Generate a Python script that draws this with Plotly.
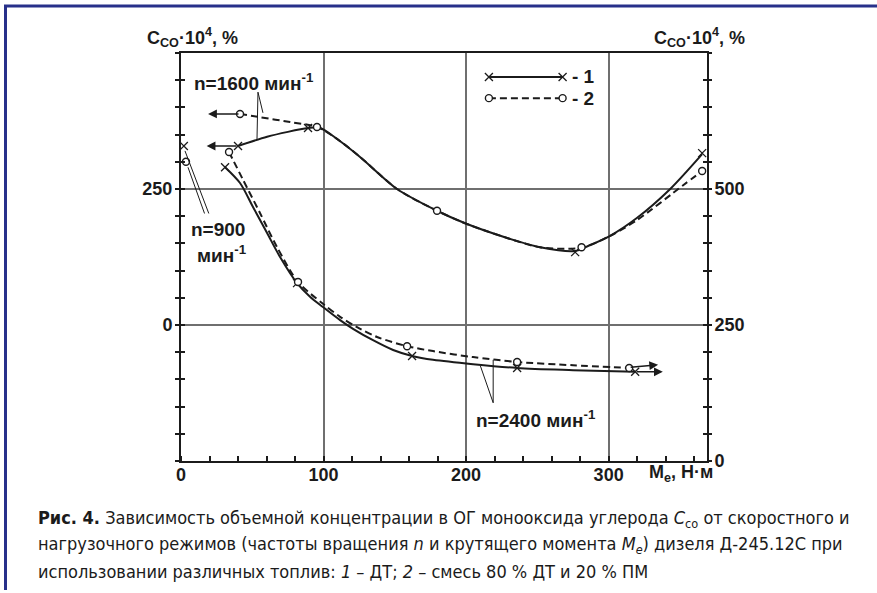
import plotly.graph_objects as go

# ---------------- data ----------------
# Me, N*m  /  C_CO*10^4, %
# n = 900 min^-1 (left axis) - single points at idle
n900_1_x = [2.0];  n900_1_y = [329]
n900_2_x = [3.5];  n900_2_y = [300]

# n = 1600 min^-1 (left axis)
c1600_1_x = [40.0, 60.4, 75.0, 89.1, 97.0, 109.5, 125.6, 151.6, 179.6, 199.3, 228.8, 251.9, 276.5, 287.0, 301.1, 320.0, 343.2, 365.6]
c1600_1_y = [329, 346, 355, 362, 363, 342, 309, 250, 210, 187, 160, 143, 136, 147, 164, 197, 250, 314]
p1600_1_x = [40.0, 89.1, 276.5, 365.6]
p1600_1_y = [329, 362, 134, 316]

c1600_2_x = [41.4, 55.4, 76.5, 95.4, 109.5, 125.6, 151.6, 179.6, 199.3, 228.8, 251.9, 281.0, 301.1, 320.0, 352.3, 365.6]
c1600_2_y = [388, 382, 373, 364, 342, 309, 250, 210, 187, 160, 143, 142, 164, 193, 257, 283]
p1600_2_x = [41.4, 95.4, 179.6, 281.0, 365.6]
p1600_2_y = [388, 364, 210, 143, 283]

# n = 2400 min^-1 (right axis)
c2400_1_x = [30.9, 41.4, 50.5, 60.4, 69.5, 81.4, 90.5, 99.6, 111.6, 120.7, 134.7, 148.8, 162.1, 176.8, 235.8, 275.1, 318.6]
c2400_1_y = [540, 511, 467, 419, 375, 327, 302, 283, 259, 243, 222, 204, 193, 186, 171, 167, 164]
p2400_1_x = [30.9, 81.4, 162.1, 235.8, 318.6]
p2400_1_y = [540, 327, 193, 171, 164]

c2400_2_x = [33.7, 43.5, 55.4, 67.4, 82.1, 99.6, 111.6, 123.5, 137.5, 158.6, 176.8, 204.9, 235.8, 275.1, 314.4]
c2400_2_y = [568, 517, 456, 393, 329, 289, 265, 246, 228, 211, 202, 191, 182, 176, 171]
p2400_2_x = [33.7, 82.1, 158.6, 235.8, 314.4]
p2400_2_y = [568, 329, 211, 182, 171]

x_ticks = [0, 100, 200, 300]
yl_ticks = [0, 250]
yr_ticks = [0, 250, 500]

# ---------------- layout geometry ----------------
W, H = 877, 593
ML, MR, MT, MB = 181, 170, 53, 132
PW, PH = W - ML - MR, H - MT - MB


def px(x):
    return (x - ML) / PW


def py(y):
    return (H - MB - y) / PH


INK = "#1b1b1b"
GRID = "#6f6f6f"
FONT = "Liberation Sans, Arial, Helvetica, sans-serif"
NARROW = "DejaVu Sans Condensed, Liberation Sans Narrow, Arial Narrow, sans-serif"
DASH = "7px,4px"

X_MARK = dict(symbol="x-thin-open", size=8, color=INK, line=dict(color=INK, width=1.3))
O_MARK = dict(symbol="circle", size=7, color="white", line=dict(color=INK, width=1.4))

fig = go.Figure()


def curve(x, y, dash, yaxis):
    fig.add_trace(go.Scatter(x=x, y=y, mode="lines", yaxis=yaxis,
                             line=dict(color=INK, width=2, dash=dash, shape="spline", smoothing=0.8),
                             hoverinfo="skip", showlegend=False))


def points(x, y, mark, yaxis):
    fig.add_trace(go.Scatter(x=x, y=y, mode="markers", yaxis=yaxis, marker=mark,
                             hoverinfo="skip", showlegend=False))


curve(c1600_1_x, c1600_1_y, "solid", "y")
curve(c1600_2_x, c1600_2_y, DASH, "y")
curve(c2400_1_x, c2400_1_y, "solid", "y2")
curve(c2400_2_x, c2400_2_y, DASH, "y2")

points(p1600_1_x, p1600_1_y, X_MARK, "y")
points(p1600_2_x, p1600_2_y, O_MARK, "y")
points(p2400_1_x, p2400_1_y, X_MARK, "y2")
points(p2400_2_x, p2400_2_y, O_MARK, "y2")
points(n900_1_x, n900_1_y, X_MARK, "y")
points(n900_2_x, n900_2_y, O_MARK, "y")

# legend samples (drawn inside the plot area)
fig.add_trace(go.Scatter(x=[216, 267.7], y=[456, 456], mode="lines+markers",
                         line=dict(color=INK, width=2), marker=X_MARK,
                         hoverinfo="skip", showlegend=False))
fig.add_trace(go.Scatter(x=[216, 267.7], y=[417, 417], mode="lines+markers",
                         line=dict(color=INK, width=2, dash=DASH), marker=O_MARK,
                         hoverinfo="skip", showlegend=False))

ann = []
lbl = dict(family=FONT, size=19, color=INK, weight="bold")
ann.append(dict(x=273, y=456, xref="x", yref="y", text="- 1", showarrow=False,
                xanchor="left", yanchor="middle", font=lbl))
ann.append(dict(x=273, y=417, xref="x", yref="y", text="- 2", showarrow=False,
                xanchor="left", yanchor="middle", font=lbl))

# arrows showing which axis each curve belongs to
arr = dict(showarrow=True, arrowhead=2, arrowsize=1.1, arrowwidth=1.6, arrowcolor=INK,
           text="", axref="x")
ann.append(dict(arr, x=18, y=329, ax=40, ay=329, xref="x", yref="y", ayref="y"))
ann.append(dict(arr, x=19, y=388, ax=41.4, ay=388, xref="x", yref="y", ayref="y"))
ann.append(dict(arr, x=338, y=164, ax=318.6, ay=164, xref="x", yref="y2", ayref="y2"))
ann.append(dict(arr, x=334.7, y=177, ax=314.4, ay=172, xref="x", yref="y2", ayref="y2"))

# curve labels
txt = dict(family=FONT, size=19, color=INK, weight="bold")
ann.append(dict(x=px(192), y=py(82), xref="paper", yref="paper", text="n=1600 мин<sup>-1</sup>",
                showarrow=False, xanchor="left", yanchor="middle", font=txt))
ann.append(dict(x=px(189), y=py(229), xref="paper", yref="paper", text="n=900",
                showarrow=False, xanchor="left", yanchor="middle", font=txt))
ann.append(dict(x=px(195), y=py(254), xref="paper", yref="paper", text="мин<sup>-1</sup>",
                showarrow=False, xanchor="left", yanchor="middle", font=txt))
ann.append(dict(x=px(474), y=py(419), xref="paper", yref="paper", text="n=2400 мин<sup>-1</sup>",
                showarrow=False, xanchor="left", yanchor="middle", font=txt))

# axis titles
ttl = dict(family=FONT, size=18, color=INK, weight="bold")
ann.append(dict(x=px(192), y=py(38), xref="paper", yref="paper",
                text="C<sub>CO</sub>·10<sup>4</sup>, %", showarrow=False,
                xanchor="center", yanchor="middle", font=ttl))
ann.append(dict(x=px(699), y=py(38), xref="paper", yref="paper",
                text="C<sub>CO</sub>·10<sup>4</sup>, %", showarrow=False,
                xanchor="center", yanchor="middle", font=ttl))
ann.append(dict(x=px(681), y=py(474), xref="paper", yref="paper",
                text="M<sub>e</sub>, Н·м", showarrow=False,
                xanchor="center", yanchor="middle", font=ttl))

# caption
cap = dict(family=NARROW, size=18, color=INK)
cap_lines = [
    "<b>Рис. 4.</b> Зависимость объемной концентрации в ОГ монооксида углерода <i>C</i><sub>со</sub> от скоростного и",
    "нагрузочного режимов (частоты вращения <i>n</i> и крутящего момента <i>M</i><sub><i>e</i></sub>) дизеля Д-245.12С при",
    "использовании различных топлив: <i>1</i> – ДТ; <i>2</i> – смесь 80 % ДТ и 20 % ПМ",
]
for i, t in enumerate(cap_lines):
    ann.append(dict(x=px(36), y=py(519 + 26 * i), xref="paper", yref="paper", text=t,
                    showarrow=False, xanchor="left", yanchor="middle", font=cap))

# leader lines and frame
shapes = []
lead = dict(type="line", xref="x", yref="y", line=dict(color=INK, width=1))
shapes.append(dict(lead, x0=54, y0=428, x1=53.3, y1=340))
shapes.append(dict(lead, x0=54, y0=428, x1=57.5, y1=390))
shapes.append(dict(lead, x0=219, y0=-143, x1=210, y1=-75))
shapes.append(dict(lead, x0=219, y0=-143, x1=219, y1=-64))
shapes.append(dict(lead, x0=2.8, y0=320, x1=19.5, y1=205))
shapes.append(dict(lead, x0=4.9, y0=290, x1=16.5, y1=205))

FRAME = "#27308a"
shapes.append(dict(type="line", xref="paper", yref="paper", x0=px(4), x1=px(880), y0=py(6), y1=py(6),
                   line=dict(color=FRAME, width=3)))
shapes.append(dict(type="line", xref="paper", yref="paper", x0=px(5.5), x1=px(5.5), y0=py(6), y1=py(590),
                   line=dict(color=FRAME, width=3)))

tickfont = dict(family=FONT, size=18, color=INK, weight="bold")

fig.update_layout(
    width=W, height=H, margin=dict(l=ML, r=MR, t=MT, b=MB, pad=0),
    paper_bgcolor="white", plot_bgcolor="white",
    annotations=ann, shapes=shapes, showlegend=False,
    xaxis=dict(range=[0, 369], tickvals=x_ticks, ticktext=[str(v) for v in x_ticks],
               showgrid=True, gridcolor=GRID, gridwidth=1.5, zeroline=False,
               showline=True, linecolor=INK, linewidth=2, mirror=True,
               ticks="", tickfont=tickfont, ticklabelstandoff=-4,
               minor=dict(dtick=20, tick0=0, ticks="inside", ticklen=5, tickwidth=1.5,
                          tickcolor=INK, showgrid=False)),
    yaxis=dict(range=[-250, 500], tickvals=yl_ticks, ticktext=[str(v) for v in yl_ticks],
               showgrid=True, gridcolor=GRID, gridwidth=1.5, zeroline=False,
               showline=True, linecolor=INK, linewidth=2, mirror=True,
               ticks="outside", ticklen=4, tickwidth=1.5, tickcolor=INK,
               tickfont=tickfont, ticklabelstandoff=-1,
               minor=dict(dtick=50, tick0=0, ticks="outside", ticklen=4, tickwidth=1.5,
                          tickcolor=INK, showgrid=False)),
    yaxis2=dict(range=[0, 750], overlaying="y", side="right", tickvals=yr_ticks,
                ticktext=[str(v) for v in yr_ticks], showgrid=False, zeroline=False,
                showline=False, ticks="outside", ticklen=4, tickwidth=1.5, tickcolor=INK,
                tickfont=tickfont, ticklabelstandoff=-1,
                minor=dict(dtick=50, tick0=0, ticks="outside", ticklen=4, tickwidth=1.5,
                           tickcolor=INK, showgrid=False)),
    yaxis3=dict(range=[-250, 500], overlaying="y", side="left", showticklabels=False,
                showgrid=False, zeroline=False, showline=False,
                ticks="inside", ticklen=4, tickwidth=1.5, tickcolor=INK, dtick=50, tick0=0),
    yaxis4=dict(range=[0, 750], overlaying="y", side="right", showticklabels=False,
                showgrid=False, zeroline=False, showline=False,
                ticks="inside", ticklen=4, tickwidth=1.5, tickcolor=INK, dtick=50, tick0=0),
)

# dummy traces to activate the tick-only axes
fig.add_trace(go.Scatter(x=[None], y=[None], yaxis="y3", showlegend=False, hoverinfo="skip"))
fig.add_trace(go.Scatter(x=[None], y=[None], yaxis="y4", showlegend=False, hoverinfo="skip"))

fig.write_html("out.html")
